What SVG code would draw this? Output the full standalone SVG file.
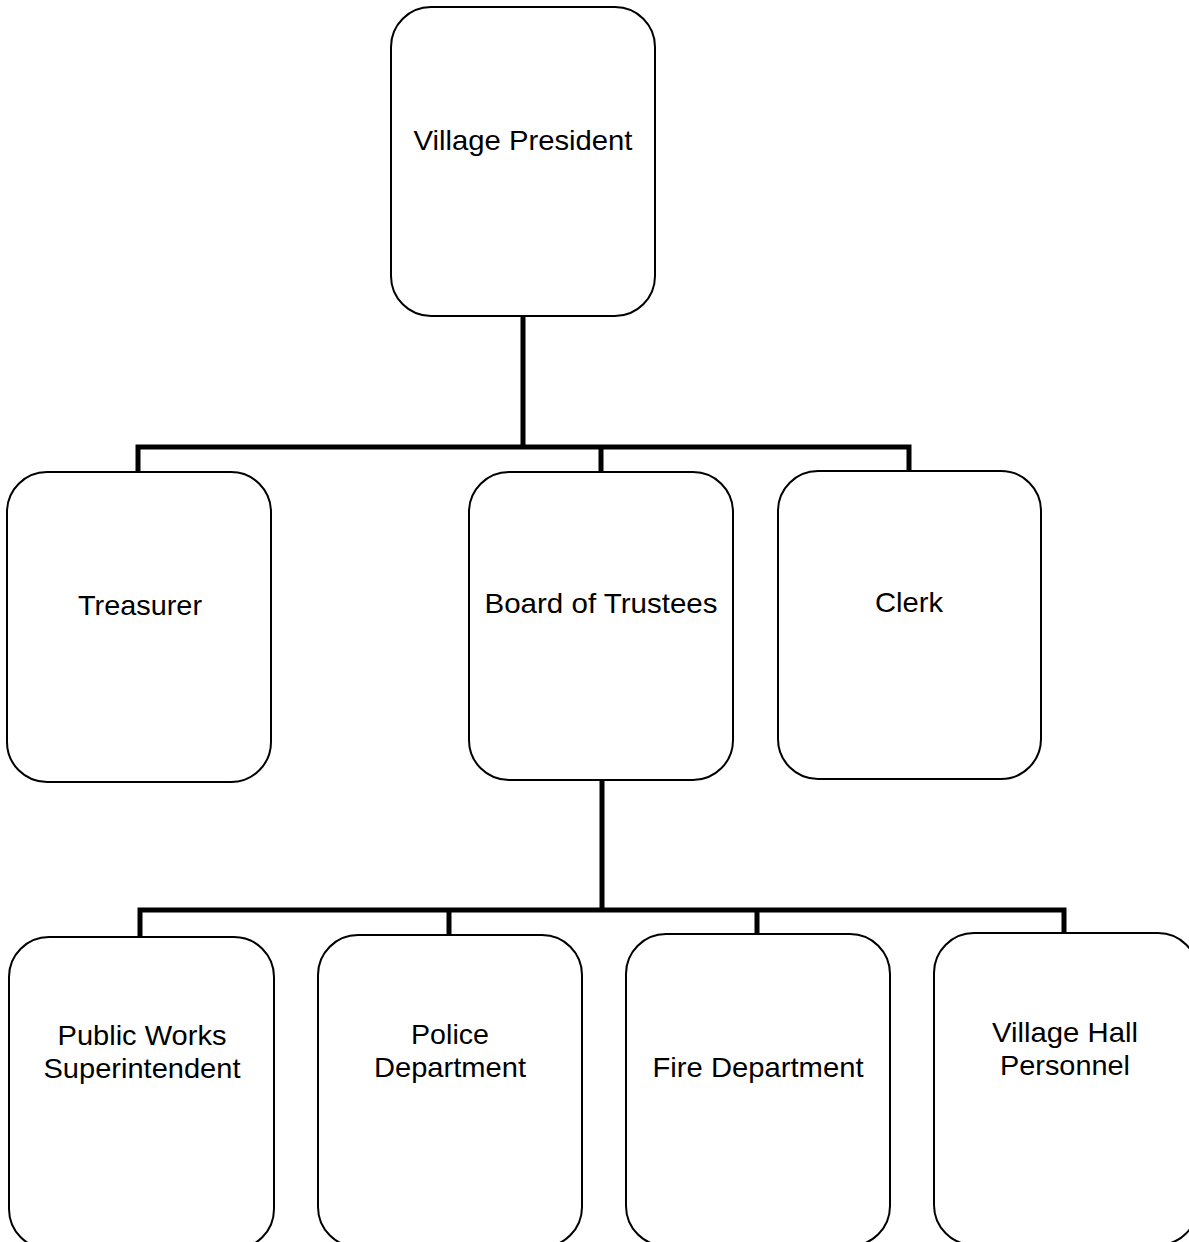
<svg xmlns="http://www.w3.org/2000/svg" width="1189" height="1242" viewBox="0 0 1189 1242">
<style>
.box{fill:#fff;stroke:#000;stroke-width:2}
.lbl{font-family:"Liberation Sans",Arial,sans-serif;font-size:28px;fill:#000;text-anchor:middle}
.conn{fill:none;stroke:#000;stroke-width:5;stroke-linejoin:miter;stroke-linecap:square}
</style>
<rect width="1189" height="1242" fill="#fff"/>
<g id="connectors">
<path class="conn" d="M523,317 V447 M138,470 V447 H909 V470 M601,447 V470"/>
<path class="conn" d="M602,781 V910 M140,935 V910 H1064 V932 M449,910 V933 M757,910 V932"/>
</g>
<g id="village-president">
<rect class="box" x="391" y="7" width="264" height="309" rx="40" ry="40"/>
<text class="lbl" x="523" y="150" textLength="219" lengthAdjust="spacingAndGlyphs">Village President</text>
</g>
<g id="treasurer">
<rect class="box" x="7" y="472" width="264" height="310" rx="40" ry="40"/>
<text class="lbl" x="140" y="615" textLength="124" lengthAdjust="spacingAndGlyphs">Treasurer</text>
</g>
<g id="board-of-trustees">
<rect class="box" x="469" y="472" width="264" height="308" rx="40" ry="40"/>
<text class="lbl" x="601" y="613" textLength="233" lengthAdjust="spacingAndGlyphs">Board of Trustees</text>
</g>
<g id="clerk">
<rect class="box" x="778" y="471" width="263" height="308" rx="40" ry="40"/>
<text class="lbl" x="909" y="612" textLength="68" lengthAdjust="spacingAndGlyphs">Clerk</text>
</g>
<g id="public-works">
<rect class="box" x="9" y="937" width="265" height="312" rx="40" ry="40"/>
<text class="lbl" x="142" y="1045" textLength="169" lengthAdjust="spacingAndGlyphs">Public Works</text>
<text class="lbl" x="142" y="1078" textLength="197" lengthAdjust="spacingAndGlyphs">Superintendent</text>
</g>
<g id="police">
<rect class="box" x="318" y="935" width="264" height="312" rx="40" ry="40"/>
<text class="lbl" x="450" y="1044" textLength="78" lengthAdjust="spacingAndGlyphs">Police</text>
<text class="lbl" x="450" y="1077" textLength="152" lengthAdjust="spacingAndGlyphs">Department</text>
</g>
<g id="fire">
<rect class="box" x="626" y="934" width="264" height="312" rx="40" ry="40"/>
<text class="lbl" x="758" y="1077" textLength="211" lengthAdjust="spacingAndGlyphs">Fire Department</text>
</g>
<g id="village-hall">
<rect class="box" x="934" y="933" width="264" height="312" rx="40" ry="40"/>
<text class="lbl" x="1065" y="1042" textLength="146" lengthAdjust="spacingAndGlyphs">Village Hall</text>
<text class="lbl" x="1065" y="1075" textLength="130" lengthAdjust="spacingAndGlyphs">Personnel</text>
</g>
</svg>
